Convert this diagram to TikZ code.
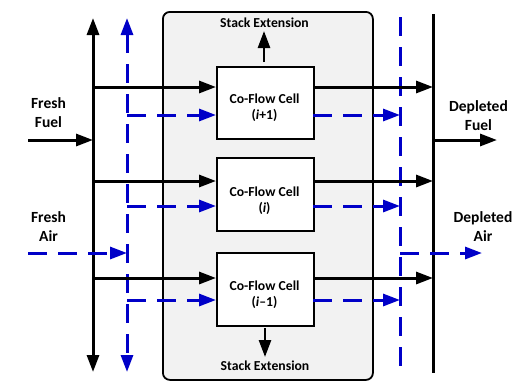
\documentclass[tikz,border=0pt]{standalone}
\usepackage{fontspec}
\setmainfont{Carlito}
\usetikzlibrary{arrows.meta}
\definecolor{airblue}{RGB}{0,0,200}
\definecolor{panelgrey}{RGB}{242,242,242}
\begin{document}
\begin{tikzpicture}[x=1pt,y=-1pt,
  fuel/.style={line width=3pt,black},
  air/.style={line width=3pt,airblue,dash pattern=on 19pt off 11pt},
  head/.style={-{Triangle[length=17pt,width=12pt]}},
  dhead/.style={{Triangle[length=17pt,width=12pt]}-{Triangle[length=17pt,width=12pt]}},
  cell/.style={draw,line width=2.3pt,fill=white,minimum width=97pt,inner sep=0pt,anchor=north west},
  celltext/.style={font=\fontsize{13.7}{16}\selectfont\bfseries,align=center,inner sep=0pt},
  lbl/.style={font=\fontsize{15.5}{19}\selectfont\bfseries,align=center,inner sep=0pt},
  stacklbl/.style={font=\fontsize{13.7}{16}\selectfont\bfseries,inner sep=0pt}
]
\useasboundingbox (0,0) rectangle (521,389);

% panel
\node[draw,fill=panelgrey,rounded corners=7pt,line width=1.8pt,minimum width=210pt,minimum height=368pt,inner sep=0pt,anchor=north west] (panel) at (162,11) {};

% cells
\node[cell,minimum height=72pt] (c1) at (216,66) {};
\node[cell,minimum height=73pt] (c2) at (216,157) {};
\node[cell,minimum height=73pt] (c3) at (216,252) {};
\node[celltext] (t1) at (264.5,108) {Co-Flow Cell\\(\textit{i}+1)};
\node[celltext] (t2) at (264.5,201) {Co-Flow Cell\\(\textit{i})};
\node[celltext] (t3) at (264.5,294.5) {Co-Flow Cell\\(\textit{i}--1)};

% stack extension
\node[stacklbl] (seT) at (264.5,23) {Stack Extension};
\node[stacklbl] (seB) at (265,366) {Stack Extension};
\coordinate (seTs) at (264,62);
\coordinate (seTe) at (264,31);
\coordinate (seBs) at (265,328);
\coordinate (seBe) at (265,357);
\draw[fuel,head,line width=2.6pt] (seTs) -- (seTe);
\draw[fuel,head,line width=2.6pt] (seBs) -- (seBe);

% buses
\coordinate (fbT) at (93,18);
\coordinate (fbB) at (93,372);
\coordinate (abT) at (127,18);
\coordinate (abB) at (127,372);
\coordinate (rfT) at (433,14);
\coordinate (rfB) at (433,373);
\coordinate (raT) at (400,17);
\coordinate (raB) at (400,374);
\draw[fuel,dhead] (fbT) -- (fbB);
\draw[air,dhead] (abT) -- (abB);
\draw[fuel] (rfT) -- (rfB);
\draw[air] (raT) -- (raB);

% row coordinates
\coordinate (f1) at (216,87);
\coordinate (f2) at (216,181);
\coordinate (f3) at (216,278);
\coordinate (a1) at (216,115);
\coordinate (a2) at (216,206);
\coordinate (a3) at (216,300);
\coordinate (g1) at (313,87);
\coordinate (g2) at (313,181);
\coordinate (g3) at (313,278);
\coordinate (b1) at (313,115);
\coordinate (b2) at (313,206);
\coordinate (b3) at (313,300);

\foreach \k in {1,2,3}{
  \draw[fuel,head] (fbT |- f\k) -- (f\k);
  \draw[air,head] (abT |- a\k) -- (a\k);
  \draw[fuel,head] (g\k) -- (rfT |- g\k);
  \draw[air,head] (b\k) -- (raT |- b\k);
}

% inlets / outlets
\coordinate (ffin) at (28,140);
\coordinate (fain) at (28,253);
\coordinate (dfout) at (497,140);
\coordinate (daout) at (482,253);
\draw[fuel,head] (ffin) -- (fbT |- ffin);
\draw[air,head] (fain) -- (abT |- fain);
\draw[fuel,head] (rfT |- dfout) -- (dfout);
\draw[air,head] (raT |- daout) -- (daout);

% labels
\node[lbl] (lff) at (48.5,112.5) {Fresh\\Fuel};
\node[lbl] (lfa) at (48.5,226.5) {Fresh\\Air};
\node[lbl] (ldf) at (478.5,115.5) {Depleted\\Fuel};
\node[lbl] (lda) at (483,226.5) {Depleted\\Air};
\end{tikzpicture}
\end{document}
